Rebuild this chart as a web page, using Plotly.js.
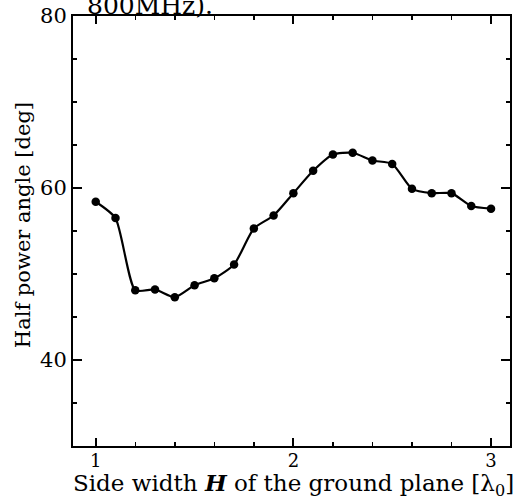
<!DOCTYPE html>
<html>
<head>
<meta charset="utf-8">
<script src="https://cdn.plot.ly/plotly-3.0.1.min.js"></script>
<style>
  html, body { margin: 0; padding: 0; background: #fff; }
  #chart { width: 520px; height: 499px; }
</style>
</head>
<body>
<div id="chart"></div>
<script>
// Side width of the ground plane, in free-space wavelengths
const sideWidth = [1.0, 1.1, 1.2, 1.3, 1.4, 1.5, 1.6, 1.7, 1.8, 1.9, 2.0,
                   2.1, 2.2, 2.3, 2.4, 2.5, 2.6, 2.7, 2.8, 2.9, 3.0];
// Half power angle in degrees
const halfPowerAngle = [58.4, 56.5, 48.1, 48.2, 47.3, 48.7, 49.5, 51.1, 55.3, 56.8, 59.4,
                        62.0, 63.9, 64.1, 63.2, 62.8, 59.9, 59.4, 59.4, 57.9, 57.6];

const xTickVals = [1, 2, 3];
const yTickVals = [40, 60, 80];

const serif = 'DejaVu Serif, Liberation Serif, serif';

const trace = {
  x: sideWidth,
  y: halfPowerAngle,
  mode: 'lines+markers',
  line: { color: '#000', width: 2.2, shape: 'spline', smoothing: 0.6 },
  marker: { color: '#000', size: 8.5 },
  hoverinfo: 'skip'
};

const axisCommon = {
  showgrid: false,
  zeroline: false,
  showline: true,
  linecolor: '#000',
  linewidth: 2,
  mirror: 'ticks',
  ticks: 'inside',
  tickcolor: '#000',
  tickwidth: 2
};

const layout = {
  width: 520,
  height: 499,
  margin: { l: 73, r: 10, t: 16, b: 53 },
  paper_bgcolor: '#fff',
  plot_bgcolor: '#fff',
  showlegend: false,
  xaxis: Object.assign({}, axisCommon, {
    range: [0.885, 3.096],
    tickmode: 'array',
    tickvals: xTickVals,
    ticktext: xTickVals.map(String),
    ticklen: 8,
    ticklabelstandoff: -3,
    tickfont: { family: serif, size: 18, color: '#000' },
    minor: { dtick: 0.2, tick0: 1, ticks: 'inside', ticklen: 4, tickcolor: '#000', tickwidth: 1.5 }
  }),
  yaxis: Object.assign({}, axisCommon, {
    range: [30, 80],
    tickmode: 'array',
    tickvals: yTickVals,
    ticktext: yTickVals.map(String),
    ticklen: 9,
    tickfont: { family: serif, size: 21, color: '#000' },
    minor: { dtick: 5, tick0: 30, ticks: 'inside', ticklen: 4, tickcolor: '#000', tickwidth: 1.5 }
  }),
  annotations: [
    {
      // x-axis title
      text: 'Side width <b><i>H</i></b> of the ground plane [λ<sub>0</sub>]',
      xref: 'paper', yref: 'paper',
      x: 0.505, y: -0.09, xanchor: 'center', yanchor: 'middle',
      showarrow: false,
      font: { family: serif, size: 23, color: '#000' }
    },
    {
      // y-axis title
      text: 'Half power angle [deg]',
      xref: 'paper', yref: 'paper',
      x: -0.114, y: 0.514, xanchor: 'center', yanchor: 'middle',
      textangle: -90,
      showarrow: false,
      font: { family: serif, size: 21, color: '#000' }
    },
    {
      // tail of the caption above the frame
      text: '800MHz).',
      xref: 'paper', yref: 'paper',
      x: 0.027, y: 1.0, xanchor: 'left', yanchor: 'bottom',
      yshift: -6,
      showarrow: false,
      font: { family: serif, size: 25, color: '#000' }
    }
  ]
};

Plotly.newPlot('chart', [trace], layout, { staticPlot: true, displayModeBar: false });
</script>
</body>
</html>
